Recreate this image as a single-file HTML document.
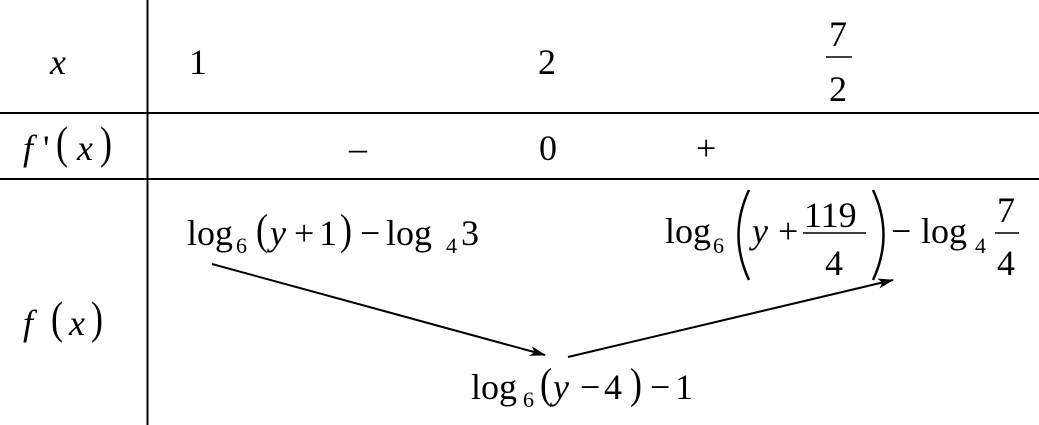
<!DOCTYPE html>
<html><head><meta charset="utf-8"><style>
html,body{margin:0;padding:0;background:#fff;}
svg{display:block;}
text{font-family:"Liberation Serif",serif;font-size:36px;fill:#000;}
.i{font-style:italic;}
.s{font-size:22px;}
</style></head><body>
<svg width="1039" height="425" viewBox="0 0 1039 425" xmlns="http://www.w3.org/2000/svg">
<defs><marker id="a" markerWidth="16" markerHeight="10" refX="15" refY="5" orient="auto" markerUnits="userSpaceOnUse"><path d="M0,0 L16,5 L0,10 L4,5 Z" fill="#000"/></marker></defs>
<line x1="147.5" y1="0" x2="147.5" y2="425" stroke="#000" stroke-width="2"/>
<line x1="0" y1="113" x2="1039" y2="113" stroke="#000" stroke-width="2"/>
<line x1="0" y1="179" x2="1039" y2="179" stroke="#000" stroke-width="2"/>
<text x="50" y="74" class="i">x</text>
<text x="189" y="74">1</text>
<text x="538" y="74">2</text>
<text x="829" y="46">7</text>
<line x1="826" y1="57" x2="852" y2="57" stroke="#000" stroke-width="1.5"/>
<text x="829" y="101">2</text>
<!-- f'(x) -->
<text x="23" y="160" class="i">f</text><text x="43" y="160">'</text>
<text transform="translate(56,158) scale(1,1.25)">(</text>
<text x="77" y="160" class="i">x</text>
<text transform="translate(100,158) scale(1,1.25)">)</text>
<text x="349" y="160">–</text>
<text x="539" y="160">0</text>
<text x="696" y="160">+</text>
<!-- f(x) -->
<text x="23" y="335" class="i">f</text>
<text transform="translate(51,333) scale(1,1.25)">(</text>
<text x="69" y="335" class="i">x</text>
<text transform="translate(91,333) scale(1,1.25)">)</text>
<!-- left expr -->
<text x="187" y="245">log</text><text x="236" y="253" class="s">6</text>
<text transform="translate(256,244) scale(1,1.2)">(</text>
<text x="270" y="245" class="i">y</text><text x="294" y="245">+</text><text x="319" y="245">1</text>
<text transform="translate(340,244) scale(1,1.2)">)</text>
<text x="360" y="245">−</text><text x="386" y="245">log</text><text x="446" y="253" class="s">4</text><text x="461" y="245">3</text>
<!-- right expr -->
<text x="665" y="243">log</text><text x="713" y="253" class="s">6</text>
<path d="M749,190 Q728,235 749,280" fill="none" stroke="#000" stroke-width="2.5"/>
<text x="752" y="243" class="i">y</text><text x="778" y="243">+</text>
<text x="804" y="227">119</text>
<line x1="803" y1="233" x2="866" y2="233" stroke="#000" stroke-width="1.5"/>
<text x="825" y="275">4</text>
<path d="M873,190 Q894,235 873,280" fill="none" stroke="#000" stroke-width="2.5"/>
<text x="891" y="243">−</text><text x="921" y="243">log</text><text x="975" y="253" class="s">4</text>
<text x="997" y="222">7</text>
<line x1="995" y1="233" x2="1019" y2="233" stroke="#000" stroke-width="1.5"/>
<text x="997" y="275">4</text>
<!-- bottom -->
<text x="471" y="399">log</text><text x="523" y="407" class="s">6</text>
<text transform="translate(540,398) scale(1,1.2)">(</text>
<text x="553" y="399" class="i">y</text><text x="580" y="399">−</text><text x="604" y="399">4</text>
<text transform="translate(630,398) scale(1,1.2)">)</text>
<text x="650" y="399">−</text><text x="675" y="399">1</text>
<line x1="212" y1="264" x2="545" y2="355" stroke="#000" stroke-width="2" marker-end="url(#a)"/>
<line x1="568" y1="357" x2="893" y2="280" stroke="#000" stroke-width="2" marker-end="url(#a)"/>
</svg>
</body></html>
